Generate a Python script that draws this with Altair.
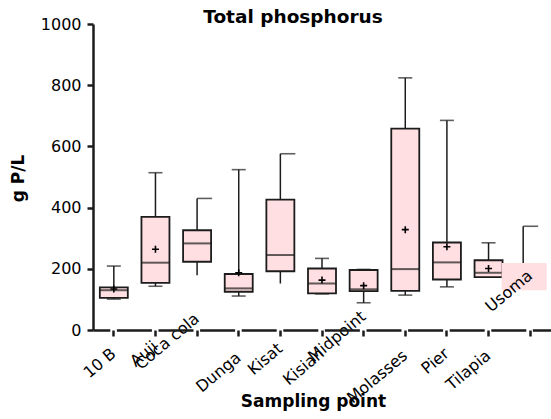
import altair as alt
import pandas as pd

cats = ["10 B", "Auji", "Coca cola", "Dunga", "Kisat", "Kisian",
        "Midpoint", "Molasses", "Pier", "Tilapia", "Usoma"]
q1 = [105, 154, 223, 125, 192, 120, 127, 128, 165, 173, 130]
median = [130, 220, 283, 136, 245, 152, 133, 199, 221, 187, None]
q3 = [139, 370, 326, 183, 426, 201, 196, 658, 286, 228, 219]
wmin = [101, 143, 179, 111, 152, 118, 89, 114, 141, 173, None]
wmax = [209, 514, 430, 524, 576, 234, 198, 824, 685, 285, 339]
mean = [134, 264, None, 187, None, 163, 145, 328, 272, 201, None]

df = pd.DataFrame({"cat": cats, "q1": q1, "median": median, "q3": q3,
                   "wmin": wmin, "wmax": wmax, "mean": mean})

FONT = "DejaVu Sans"
INK = "#1c1c1c"
PINK = "#ffdfe2"

pad_map = {"10 B": 15, "Auji": 8, "Coca cola": -20, "Dunga": 19, "Kisat": 10,
           "Kisian": 15, "Midpoint": -22, "Molasses": 17, "Pier": 15,
           "Tilapia": 17, "Usoma": -63}
pad_expr = "".join(f"datum.value == '{k}' ? {v} : " for k, v in pad_map.items()) + "14"

xaxis = alt.Axis(
    title="Sampling point", titleFont=FONT, titleFontSize=17, titleFontWeight="bold",
    titleColor="black", titleX=220, titleY=71, titleBaseline="middle", titleAlign="center",
    labelFont=FONT, labelFontSize=16, labelColor="black", labelAngle=-40,
    labelAlign="right", labelBaseline="middle", labelOffset=0,
    labelPadding=alt.ExprRef(pad_expr), labelOverlap=False,
    domainColor=INK, domainWidth=2.5, domainDash=[35, 6.6], domainDashOffset=18.2,
    tickColor=INK, tickWidth=2.5, tickSize=6, grid=False, zindex=1,
)
yaxis = alt.Axis(
    title="g P/L", titleFont=FONT, titleFontSize=17, titleFontWeight="bold",
    titleColor="black", titleX=-75, titleY=154, titleBaseline="middle",
    titleAlign="center", titleAngle=270, format="d",
    values=[0, 200, 400, 600, 800, 1000], labelFont=FONT, labelFontSize=16,
    labelColor="black", labelPadding=6,
    domainColor=INK, domainWidth=2.5, tickColor=INK, tickWidth=2.5, tickSize=6,
    grid=False,
)

xs = alt.Scale(domain=cats, paddingInner=0, paddingOuter=0)
ys = alt.Scale(domain=[0, 1000], nice=False, zero=True)


def X():
    return alt.X("cat:N", sort=cats, scale=xs, axis=xaxis)


def Y(f):
    return alt.Y(f"{f}:Q", scale=ys, axis=yaxis)


base = alt.Chart(df)
main = base.transform_filter("datum.cat != 'Usoma'")
us = base.transform_filter("datum.cat == 'Usoma'")

whisk = main.mark_rule(color=INK, strokeWidth=1.5).encode(
    x=X(), y=Y("wmin"), y2="wmax")
box = main.mark_bar(width=28, fill=PINK, stroke=INK, strokeWidth=1.8).encode(
    x=X(), y=Y("q1"), y2="q3")
med = main.mark_tick(size=28, thickness=2, color=INK).encode(x=X(), y=Y("median"))
cap_top = main.transform_filter(
    "datum.cat != 'Coca cola' && datum.cat != 'Kisat'"
).mark_tick(size=14, thickness=1.6, color=INK).encode(x=X(), y=Y("wmax"))
cap_top_r = main.transform_filter(
    "datum.cat == 'Coca cola' || datum.cat == 'Kisat'"
).mark_tick(size=15, thickness=1.6, color=INK, xOffset=7.5).encode(x=X(), y=Y("wmax"))
cap_bot = main.transform_filter(
    "indexof(['10 B','Auji','Dunga','Kisian','Midpoint','Molasses','Pier'], datum.cat) >= 0"
).mark_tick(size=14, thickness=1.6, color=INK).encode(x=X(), y=Y("wmin"))
means = main.transform_filter("isValid(datum.mean)").mark_point(
    shape="M-1,0L1,0M0,-1L0,1", filled=False, size=49, strokeWidth=1.6, color="black",
    opacity=1).encode(x=X(), y=Y("mean"))

us_whisk = us.mark_rule(color=INK, strokeWidth=1.5, xOffset=-7).encode(
    x=X(), y=Y("q3"), y2="wmax")
us_box = us.mark_bar(width=45, fill=PINK, strokeWidth=0, xOffset=-6).encode(
    x=X(), y=Y("q1"), y2="q3")
us_cap = us.mark_tick(size=15, thickness=1.6, color=INK, xOffset=0.5).encode(
    x=X(), y=Y("wmax"))

chart = alt.layer(
    whisk, box, med, cap_top, cap_top_r, cap_bot, means, us_whisk, us_box, us_cap
).properties(
    width=458, height=306, background="white",
    title=alt.TitleParams("Total phosphorus", font=FONT, fontSize=18.5, fontWeight="bold",
                          color="black", frame="group", anchor="middle", dx=-29, dy=24,
                          baseline="alphabetic", offset=-1),
    autosize=alt.AutoSizeParams(type="none"),
    padding={"left": 93, "top": 24, "right": 0, "bottom": 89},
).configure_view(stroke=None, strokeWidth=0).configure_axis(grid=False)

chart.save("out.html", embed_options={"renderer": "svg", "actions": False})
